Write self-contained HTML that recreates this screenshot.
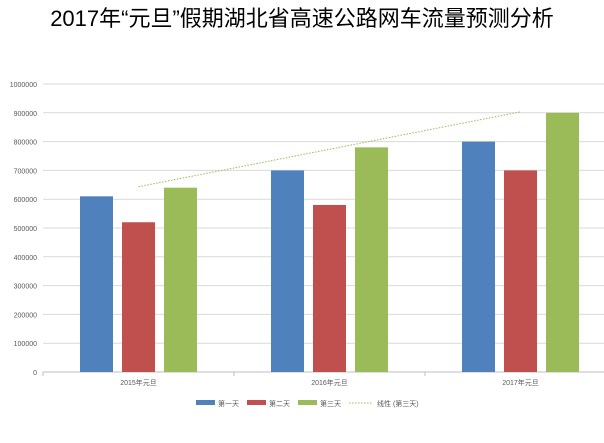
<!DOCTYPE html>
<html><head><meta charset="utf-8"><style>
body{margin:0;background:#fff;}
svg text{font-family:"Liberation Sans","Noto Sans CJK SC",sans-serif;}
</style></head><body>
<svg id="chart" width="604" height="438" xmlns="http://www.w3.org/2000/svg">
<text x="302" y="26" text-anchor="middle" font-size="22" fill="#000">2017年“元旦”假期湖北省高速公路网车流量预测分析</text>
<g id="grid"></g><g id="bars"></g><g id="trend"></g><g id="legend"></g>
</svg>
<script>
const categories=["2015年元旦","2016年元旦","2017年元旦"];
const seriesNames=["第一天","第二天","第三天"];
const day1=[610000,700000,800000];
const day2=[520000,580000,700000];
const day3=[640000,780000,900000];
const yTicks=[0,100000,200000,300000,400000,500000,600000,700000,800000,900000,1000000];
const colors=["#4f81bd","#c0504d","#9bbb59"];
const NS="http://www.w3.org/2000/svg";
const x0=43,bandW=191,y0=372,yMax=1000000,plotH=288,plotR=604;
const yS=v=>y0-v/yMax*plotH;
const xC=i=>x0+bandW*(i+0.5);
function mk(t,a,p){const e=document.createElementNS(NS,t);for(const k in a)e.setAttribute(k,a[k]);p.appendChild(e);return e;}
const grid=document.getElementById('grid');
yTicks.forEach(v=>{
  const l=mk('line',{x1:x0,x2:plotR,y1:yS(v),y2:yS(v),stroke:v===0?'#bfbfbf':'#d9d9d9','stroke-width':1},grid);
  
  
  const t=mk('text',{x:x0-6,y:yS(v)+3,'text-anchor':'end','font-size':7,fill:'#595959'},grid);
  t.textContent=v;
  
  
});
for(let i=0;i<=categories.length;i++){
  const l=mk('line',{x1:x0+bandW*i,x2:x0+bandW*i,y1:y0,y2:y0+4,stroke:'#bfbfbf'},grid);
  
  
}
categories.forEach((c,i)=>{
  const t=mk('text',{x:xC(i),y:y0+13,'text-anchor':'middle','font-size':7,fill:'#595959'},grid);
  t.textContent=c;
  
  
});
const bars=document.getElementById('bars');
const series=[day1,day2,day3];
const bw=33,gap=9;
series.forEach((s,si)=>{
  s.forEach((v,i)=>{
    const x=xC(i)-(3*bw+2*gap)/2+si*(bw+gap);
    const r=mk('rect',{x:x,y:yS(v),width:bw,height:y0-yS(v),fill:colors[si]},bars);
    
    
  });
});
// linear trend of day3
const n=day3.length;let sx=0,sy=0,sxy=0,sxx=0;
day3.forEach((v,i)=>{sx+=i;sy+=v;sxy+=i*v;sxx+=i*i;});
const slope=(n*sxy-sx*sy)/(n*sxx-sx*sx),inter=(sy-slope*sx)/n;
const tr=mk('line',{x1:xC(0),y1:yS(inter),x2:xC(n-1),y2:yS(inter+slope*(n-1)),stroke:'#9bbb59','stroke-width':1,'stroke-dasharray':'1.5,1.5'},document.getElementById('trend'));


const lg=document.getElementById('legend');
const items=[[196,colors[0],seriesNames[0]],[247,colors[1],seriesNames[1]],[298,colors[2],seriesNames[2]]];
items.forEach(([x,c,name])=>{
  const r=mk('rect',{x:x,y:400,width:19,height:5,fill:c},lg);
  
  
  const t=mk('text',{x:x+22,y:406,'font-size':7,fill:'#595959'},lg);
  t.textContent=name;
  
  
});
const ll=mk('line',{x1:349,x2:373,y1:403,y2:403,stroke:'#9bbb59','stroke-dasharray':'1.5,1.5'},lg);


const lt=mk('text',{x:377,y:406,'font-size':7,fill:'#595959'},lg);
lt.textContent='线性 (第三天)';


</script>
</body></html>
